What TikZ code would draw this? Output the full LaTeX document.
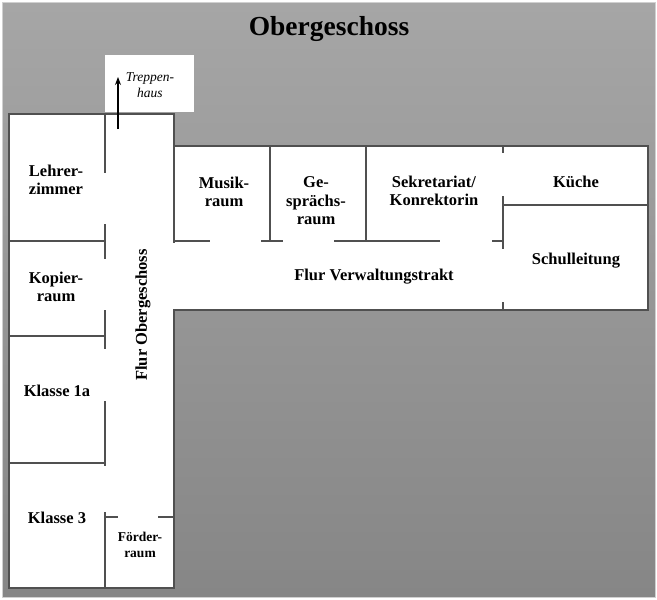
\documentclass[tikz,border=0pt]{standalone}
\usepackage{fontspec}
\setmainfont{Liberation Serif}
\usetikzlibrary{arrows.meta}
\definecolor{bgtop}{HTML}{A6A6A6}
\definecolor{bgbot}{HTML}{868686}
\definecolor{wall}{HTML}{505050}
\definecolor{frame}{HTML}{D0D0D0}
\tikzset{
  lbl/.style={font=\bfseries\fontsize{16.5}{18.5}\selectfont, align=center, inner sep=0pt},
  smalllbl/.style={font=\bfseries\fontsize{13.5}{16}\selectfont, align=center, inner sep=0pt},
  wallline/.style={draw=wall, line width=1.4pt},
}
\begin{document}
\begin{tikzpicture}[x=1pt,y=-1pt]
\useasboundingbox (0,0) rectangle (657,600);
\fill[white] (0,0) rectangle (657,600);
\shade[top color=bgtop, bottom color=bgbot, draw=frame, line width=1pt] (2,2) rectangle (655,597);
% title
\node[font=\bfseries\fontsize{27.5}{30}\selectfont, inner sep=0pt] (title) at (329,29) {Obergeschoss};
% Treppenhaus
\fill[white] (105,55) rectangle (194,112);
\node[font=\itshape\fontsize{13.5}{16}\selectfont, align=center, inner sep=0pt] (trep) at (150,85) {Treppen-\\haus};
% building fill
\fill[white] (9,114) -- (174,114) -- (174,146) -- (648,146) -- (648,310) -- (174,310) -- (174,588) -- (9,588) -- cycle;
% outline
\draw[wallline] (9,114) -- (174,114) -- (174,146) -- (648,146) -- (648,310) -- (174,310) -- (174,588) -- (9,588) -- cycle;
% arrow to Treppenhaus
\coordinate (arrS) at (118,129);
\coordinate (arrE) at (118,77);
\draw[-{Stealth[length=8pt,width=6pt]}, line width=1.2pt] (arrS) -- (arrE);
% corridor left wall
\draw[wallline] (105,114) -- (105,173);
\draw[wallline] (105,224) -- (105,259);
\draw[wallline] (105,310) -- (105,349);
\draw[wallline] (105,401) -- (105,466);
\draw[wallline] (105,512) -- (105,588);
% left room walls
\draw[wallline] (9,241) -- (105,241);
\draw[wallline] (9,336) -- (105,336);
\draw[wallline] (9,463) -- (105,463);
% Foerderraum top
\draw[wallline] (105,517) -- (118,517);
\draw[wallline] (158,517) -- (174,517);
% wing walls
\draw[wallline] (174,146) -- (174,243);
\draw[wallline] (270,146) -- (270,241);
\draw[wallline] (366,146) -- (366,241);
\draw[wallline] (174,241) -- (210,241);
\draw[wallline] (261,241) -- (283,241);
\draw[wallline] (334,241) -- (440,241);
\draw[wallline] (492,241) -- (503,241);
\draw[wallline] (503,146) -- (503,153);
\draw[wallline] (503,196) -- (503,249);
\draw[wallline] (503,302) -- (503,310);
\draw[wallline] (503,205) -- (648,205);
% labels
\node[lbl] (lehrer) at (56,180) {Lehrer-\\zimmer};
\node[lbl] (kopier) at (56,287) {Kopier-\\raum};
\node[lbl] (k1a) at (57,391) {Klasse 1a};
\node[lbl] (k3) at (57,518) {Klasse 3};
\node[smalllbl] (foerder) at (140,545) {Förder-\\raum};
\node[lbl, rotate=90] (flurog) at (143,315) {Flur Obergeschoss};
\node[lbl] (musik) at (224,192) {Musik-\\raum};
\node[lbl] (gespr) at (316,201) {Ge-\\sprächs-\\raum};
\node[lbl] (sekr) at (434,191) {Sekretariat/\\Konrektorin};
\node[lbl] (kueche) at (576,182) {Küche};
\node[lbl] (schul) at (576,261) {Schulleitung};
\node[lbl] (flurvw) at (374,277) {Flur Verwaltungstrakt};
\end{tikzpicture}
\end{document}
